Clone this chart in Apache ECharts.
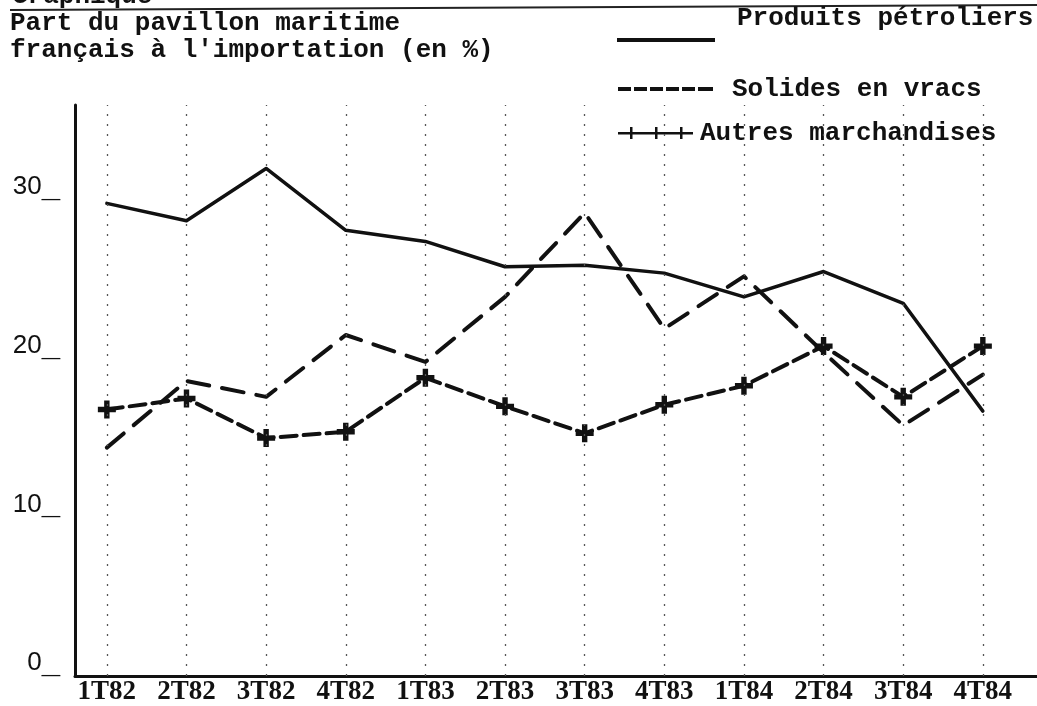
<!DOCTYPE html>
<html>
<head>
<meta charset="utf-8">
<script src="https://cdn.jsdelivr.net/npm/echarts@6/dist/echarts.min.js"></script>
<style>
html,body{margin:0;padding:0;background:#fff;}
#main{width:1037px;height:706px;}
</style>
</head>
<body>
<div id="main"></div>
<script>
const categories = ['1T82','2T82','3T82','4T82','1T83','2T83','3T83','4T83','1T84','2T84','3T84','4T84'];
const petroliers = [29.8, 28.7, 32.0, 28.1, 27.4, 25.8, 25.9, 25.4, 23.9, 25.5, 23.5, 16.7];
const solides    = [14.4, 18.6, 17.6, 21.5, 19.8, 23.9, 29.2, 21.9, 25.2, 20.4, 15.8, 19.0];
const autres     = [16.8, 17.5, 15.0, 15.4, 18.8, 17.0, 15.3, 17.1, 18.3, 20.8, 17.6, 20.8];
const yTicks = [0, 10, 20, 30];
const seriesNames = ['Produits pétroliers', 'Solides en vracs', 'Autres marchandises'];

const ink = '#111';
const mono = 'Liberation Mono';
const pts = arr => arr.map((v, i) => [i, v]);
const idx = categories.map((c, i) => i);
const crossPath = 'path://M3.5,0h3v10h-3z M0,3.5h10v3h-10z';
const monoText = {fontFamily: mono, fontSize: 26, fontWeight: 'bold', color: ink};

const chart = echarts.init(document.getElementById('main'), null, {renderer: 'canvas'});
chart.setOption({
  animation: false,
  backgroundColor: '#fff',
  title: [
    {text: 'Graphique', left: 12, top: -17, padding: 0, textStyle: monoText},
    {text: 'Part du pavillon maritime\nfrançais à l\'importation (en %)', left: 10, top: 10, padding: 0,
     textStyle: Object.assign({lineHeight: 27}, monoText)}
  ],
  graphic: [
    {type: 'line', shape: {x1: 10, y1: 10, x2: 1037, y2: 5}, style: {stroke: '#222', lineWidth: 2}}
  ],
  legend: [
    {data: [seriesNames[0]], left: 617, top: -6, padding: 0, itemWidth: 98, itemHeight: 48,
     selectedMode: false, symbolKeepAspect: false,
     icon: 'path://M0,0h0.01v0.01h-0.01z M0,44h98v4h-98z',
     textStyle: Object.assign({padding: [0, 0, 0, 17]}, monoText)},
    {data: [seriesNames[1]], left: 618, top: 76, padding: 0, itemWidth: 95, itemHeight: 4,
     selectedMode: false, symbolKeepAspect: false,
     icon: 'path://M0,0h13v4h-13z M16,0h13v4h-13z M32,0h13v4h-13z M48,0h13v4h-13z M64,0h13v4h-13z M80,0h15v4h-15z',
     textStyle: Object.assign({padding: [0, 0, 0, 14]}, monoText)},
    {data: [seriesNames[2]], left: 618, top: 120, padding: 0, itemWidth: 75, itemHeight: 12,
     selectedMode: false, symbolKeepAspect: false,
     icon: 'path://M0,5h75v2.5h-75z M12,0h2.5v12h-2.5z M37,0h2.5v12h-2.5z M62,0h2.5v12h-2.5z',
     textStyle: Object.assign({padding: [0, 0, 0, 2]}, monoText)}
  ],
  grid: {left: 75, right: 0, top: 105, bottom: 29, containLabel: false},
  xAxis: {
    type: 'value', min: -0.4, max: 11.68,
    axisLine: {show: true, onZero: false, lineStyle: {color: ink, width: 3}},
    axisTick: {show: false},
    splitLine: {show: false},
    axisLabel: {
      customValues: idx,
      formatter: v => categories[Math.round(v)],
      margin: 3,
      fontFamily: 'Liberation Serif', fontSize: 27, fontWeight: 'bold', color: ink
    }
  },
  yAxis: {
    type: 'value', min: 0, max: 36,
    axisLine: {show: true, onZero: false, lineStyle: {color: ink, width: 3}},
    axisTick: {show: false},
    splitLine: {show: false},
    axisLabel: {
      customValues: yTicks,
      formatter: v => '{d|' + v + '}{u|_}',
      margin: 15,
      verticalAlign: 'middle',
      padding: [0, 0, 26, 0],
      rich: {
        d: {fontFamily: 'Liberation Sans', fontSize: 26, color: ink},
        u: {fontFamily: 'Liberation Sans', fontSize: 33, fontWeight: 'bold', color: ink}
      }
    }
  },
  series: [
    {
      name: seriesNames[0], type: 'line', data: pts(petroliers),
      symbol: 'none', color: ink,
      lineStyle: {color: ink, width: 3.5, cap: 'round', join: 'round'},
      markLine: {
        silent: true, symbol: ['none', 'none'], label: {show: false},
        lineStyle: {color: '#555', width: 1.3, type: [2, 8]},
        data: idx.map(i => ({xAxis: i}))
      },
      z: 3
    },
    {
      name: seriesNames[1], type: 'line', data: pts(solides),
      symbol: 'none', color: ink,
      lineStyle: {color: ink, width: 4, type: [22, 13], cap: 'round', join: 'round'},
      z: 3
    },
    {
      name: seriesNames[2], type: 'line', data: pts(autres),
      symbol: crossPath, symbolSize: 18, showSymbol: true, color: ink,
      itemStyle: {color: ink},
      lineStyle: {color: ink, width: 4, type: [16, 7], cap: 'round', join: 'round'},
      z: 3
    }
  ]
});
</script>
</body>
</html>
